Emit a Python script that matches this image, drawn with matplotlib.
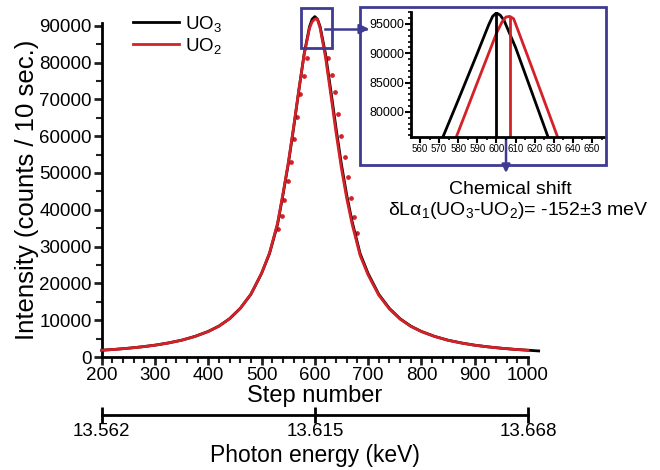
import matplotlib
matplotlib.use("Agg")
import matplotlib.pyplot as plt
from matplotlib.patches import Rectangle
from matplotlib.ticker import MultipleLocator

plt.rcParams['font.family'] = ['Liberation Sans', 'DejaVu Sans']
plt.rcParams['mathtext.default'] = 'regular'

# main spectrum
steps_uo3 = [200, 225, 250, 275, 300, 325, 350, 375, 400, 420, 440, 460, 480, 500, 515, 530, 540, 550,
             560, 570, 580, 590, 595, 600, 605, 610, 620, 630, 640, 650, 660, 670, 685, 700, 720, 740,
             760, 780, 800, 825, 850, 875, 900, 925, 950, 975, 1000, 1020]
counts_uo3 = [1840, 2080, 2390, 2760, 3220, 3820, 4570, 5600, 6950, 8400, 10400, 13200, 17030, 22680,
              28100, 36000, 43880, 52270, 61980, 72430, 82370, 89740, 91800, 92500, 91800, 89740,
              82370, 72430, 61980, 52270, 43880, 36800, 28100, 22680, 17030, 13200, 10400, 8400, 6950,
              5600, 4570, 3820, 3220, 2760, 2390, 2080, 1840, 1650]
steps_uo2 = [200, 225, 250, 275, 300, 325, 350, 375, 400, 420, 440, 460, 480, 500, 515, 530, 540, 550,
             560, 570, 580, 590, 595, 600, 603, 605, 610, 620, 630, 640, 650, 660, 670, 685, 700, 720,
             740, 760, 780, 800, 825, 850, 875, 900, 925, 950, 975, 1000]
counts_uo2 = [1830, 2070, 2380, 2750, 3200, 3800, 4550, 5570, 6920, 8370, 10380, 13200, 17050, 22750,
              28300, 36300, 44200, 52600, 62300, 72600, 82200, 89300, 91100, 91800, 91900, 91700,
              89300, 81500, 71300, 60800, 51200, 43000, 36100, 27600, 22300, 16800, 13050, 10300,
              8330, 6900, 5560, 4540, 3800, 3200, 2750, 2380, 2070, 1850]
# red data points on the flanks
dots_x = [585, 580, 573, 567, 561, 556, 550, 543, 538, 531,
          625, 632, 638, 644, 650, 657, 662, 668, 674, 680]
dots_y = [81300, 76400, 71500, 65300, 59200, 53100, 47700, 42700, 38300, 34700,
          81200, 76700, 71900, 66100, 60100, 54300, 48900, 43100, 38100, 33600]

# zoomed inset
in_x_uo3 = [572, 580, 590, 596, 598, 600, 602, 604, 610, 620, 627]
in_y_uo3 = [75700, 82000, 90000, 94900, 96300, 96900, 96500, 95600, 91000, 82000, 75700]
in_x_uo2 = [579, 590, 600, 603, 605, 607, 609, 612, 620, 632]
in_y_uo2 = [75700, 85000, 93400, 95400, 96200, 96300, 95900, 93300, 86300, 75700]
peak_uo3 = 600
peak_uo2 = 607

energy_ticks = [13.562, 13.615, 13.668]

purple = '#3f3a92'
red = '#d42027'

fig = plt.figure(figsize=(6.6, 4.7), dpi=100)
ax = fig.add_axes([0.154, 0.2404, 0.646, 0.711])
ax.plot(steps_uo3, counts_uo3, color='black', lw=2, label='UO$_3$', clip_on=False, zorder=3)
ax.plot(steps_uo2, counts_uo2, color=red, lw=2, label='UO$_2$', clip_on=False, zorder=4)
ax.plot(dots_x, dots_y, ls='none', marker='o', ms=2.4, color=red, clip_on=False)
ax.add_patch(Rectangle((575, 84000), 57, 10800, fill=False, ec=purple, lw=2, clip_on=False, zorder=5))

ax.set_xlim(200, 1000)
ax.set_ylim(0, 90800)
ax.xaxis.set_major_locator(MultipleLocator(100))
ax.xaxis.set_minor_locator(MultipleLocator(20))
ax.yaxis.set_major_locator(MultipleLocator(10000))
ax.yaxis.set_minor_locator(MultipleLocator(5000))
for s in ['top', 'right']:
    ax.spines[s].set_visible(False)
for s in ['left', 'bottom']:
    ax.spines[s].set_linewidth(2)
ax.tick_params(which='major', length=6, width=2, labelsize=13.5, pad=1, color='#222222')
ax.tick_params(which='minor', length=4, width=1.5, color='#222222')
ax.set_xlabel('Step number', fontsize=17, labelpad=1)
ax.set_ylabel('Intensity (counts / 10 sec.)', fontsize=18.5, labelpad=0)
ax.legend(loc='upper left', bbox_to_anchor=(0.055, 1.05), frameon=False, fontsize=13.5,
          handlelength=2.5, handletextpad=0.3, labelspacing=0.1, borderaxespad=0)

# energy axis
ax2 = fig.add_axes([0.154, 0.117, 0.646, 0.001])
ax2.set_xlim(energy_ticks[0], energy_ticks[-1])
ax2.set_xticks(energy_ticks)
ax2.set_xticklabels(['%.3f' % e for e in energy_ticks])
ax2.set_yticks([])
for s in ['top', 'right', 'left']:
    ax2.spines[s].set_visible(False)
ax2.spines['bottom'].set_linewidth(2)
ax2.tick_params(direction='inout', length=11, width=2, labelsize=13.5, pad=0)
ax2.set_xlabel('Photon energy (keV)', fontsize=16.5, labelpad=3)

# inset
fig.patches.append(Rectangle((0.5455, 0.649), 0.3727, 0.336, transform=fig.transFigure,
                             fill=False, ec=purple, lw=2))
axi = fig.add_axes([0.6227, 0.7085, 0.294, 0.2666])
axi.plot(in_x_uo3, in_y_uo3, color='black', lw=2)
axi.plot(in_x_uo2, in_y_uo2, color=red, lw=2)
axi.vlines(peak_uo3, 75700, max(in_y_uo3), color='black', lw=2)
axi.vlines(peak_uo2, 75700, max(in_y_uo2), color=red, lw=2)
axi.set_xlim(555.3, 656.8)
axi.set_ylim(75700, 97100)
axi.xaxis.set_major_locator(MultipleLocator(10))
axi.xaxis.set_minor_locator(MultipleLocator(5))
axi.yaxis.set_major_locator(MultipleLocator(5000))
axi.yaxis.set_minor_locator(MultipleLocator(1000))
for s in ['top', 'right']:
    axi.spines[s].set_visible(False)
for s in ['left', 'bottom']:
    axi.spines[s].set_linewidth(2)
axi.tick_params(axis='y', which='major', length=4, width=1.5, labelsize=9, pad=1)
axi.tick_params(axis='x', which='major', length=4, width=1.5, labelsize=7, pad=1)
axi.tick_params(which='minor', length=2.5, width=1.2)

# arrows and annotation
fig.add_artist(plt.Line2D([0.4924, 0.555], [0.9383, 0.9383], color=purple, lw=1.8))
ax.annotate('', xy=(0.5636, 0.9383), xytext=(0.54, 0.9383), xycoords='figure fraction',
            arrowprops=dict(arrowstyle='-|>', color=purple, lw=1.8, mutation_scale=14))
ax.annotate('', xy=(0.7667, 0.626), xytext=(0.7667, 0.744), xycoords='figure fraction',
            arrowprops=dict(arrowstyle='-|>', color=purple, lw=1.8, mutation_scale=12))
fig.text(0.7727, 0.596, 'Chemical shift', ha='center', va='center', fontsize=14)
fig.text(0.786, 0.553, 'δLα$_1$(UO$_3$-UO$_2$)= -152±3 meV', ha='center', va='center', fontsize=14)

fig.savefig('out.png', dpi=100)
